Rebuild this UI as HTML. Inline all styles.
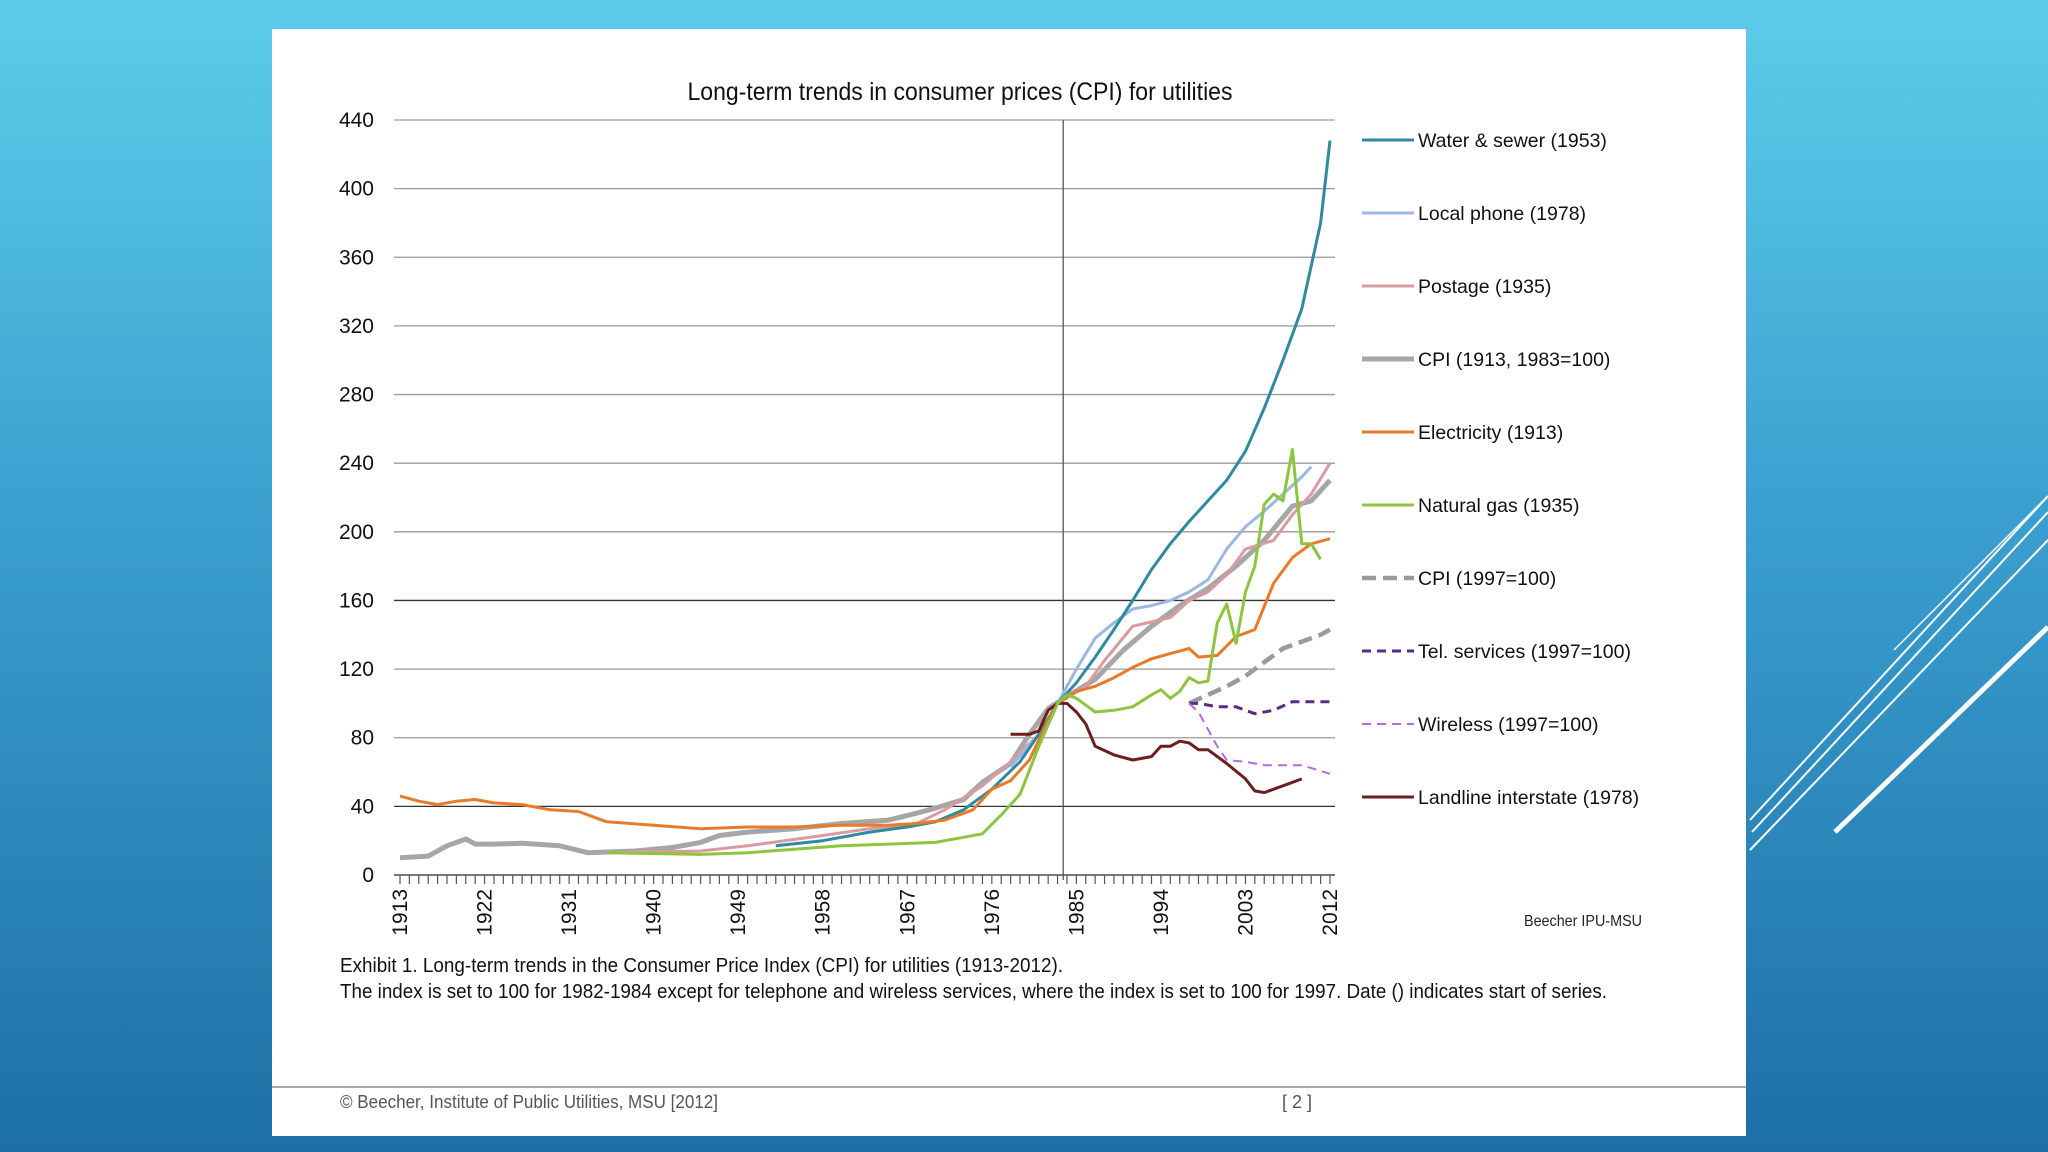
<!DOCTYPE html>
<html><head><meta charset="utf-8">
<style>
html,body{margin:0;padding:0;width:2048px;height:1152px;overflow:hidden;}
body{background:linear-gradient(180deg,#5ccde9 0%,#3a9fd0 45%,#1d6fa6 100%);font-family:"Liberation Sans",sans-serif;}
svg{position:absolute;left:0;top:0;}
</style></head>
<body>
<svg id="chart" width="2048" height="1152" viewBox="0 0 2048 1152" xmlns="http://www.w3.org/2000/svg">
  <g stroke="#ffffff" fill="none">
    <line x1="1750" y1="820" x2="2048" y2="496" stroke-width="2"/>
    <line x1="1752" y1="832" x2="2048" y2="512" stroke-width="2"/>
    <line x1="1750" y1="850" x2="2048" y2="540" stroke-width="2"/>
    <line x1="1835" y1="832" x2="2048" y2="627" stroke-width="5"/>
    <line x1="1894" y1="650" x2="2048" y2="496" stroke-width="1.5"/>
  </g>
  <rect x="272" y="29" width="1474" height="1107" fill="#ffffff"/>
  <text x="960" y="100" font-size="25" text-anchor="middle" fill="#111" font-family="Liberation Sans, sans-serif" textLength="545" lengthAdjust="spacingAndGlyphs">Long-term trends in consumer prices (CPI) for utilities</text>
  <g id="grid"></g>
  <g id="axes"></g>
  <g id="series"></g>
  <g id="legend"></g>
  <text x="1524" y="926" font-size="16" fill="#222" textLength="118" lengthAdjust="spacingAndGlyphs">Beecher IPU-MSU</text>
  <text x="340" y="972" font-size="20" fill="#111" textLength="723" lengthAdjust="spacingAndGlyphs">Exhibit 1.  Long-term trends in the Consumer Price Index (CPI) for utilities (1913-2012).</text>
  <text x="340" y="998" font-size="20" fill="#111" textLength="1267" lengthAdjust="spacingAndGlyphs">The index is set to 100 for 1982-1984 except for telephone and wireless services, where the index is set to 100 for 1997.  Date () indicates start of series.</text>
  <line x1="272" y1="1087" x2="1746" y2="1087" stroke="#8a8a8a" stroke-width="1.5"/>
  <text x="340" y="1108" font-size="18" fill="#555" textLength="378" lengthAdjust="spacingAndGlyphs">© Beecher, Institute of Public Utilities, MSU [2012]</text>
  <text x="1297" y="1108" font-size="18" fill="#555" text-anchor="middle">[ 2 ]</text>
</svg>
<script>
const yTicks=[0,40,80,120,160,200,240,280,320,360,400,440];
const xTickYears=[1913,1922,1931,1940,1949,1958,1967,1976,1985,1994,2003,2012];
const waterYears=[1953,1958,1963,1967,1970,1973,1976,1979,1981,1983,1985,1987,1989,1991,1993,1995,1997,1999,2001,2003,2005,2007,2009,2011,2012];
const waterVals=[17,20,25,28,31,38,50,66,82,100,112,127,143,160,178,193,206,218,230,247,272,300,330,380,428];
const phoneYears=[1978,1981,1983,1985,1987,1989,1991,1993,1995,1997,1999,2001,2003,2005,2007,2009,2010];
const phoneVals=[63,82,100,120,138,147,155,157,160,165,172,190,203,212,222,232,238];
const postageYears=[1935,1945,1950,1958,1963,1968,1971,1975,1978,1981,1983,1986,1988,1991,1995,1997,1999,2001,2003,2006,2008,2010,2012];
const postageVals=[13,14,17,23,27,30,38,52,66,82,100,110,125,145,150,160,165,175,190,195,210,222,240];
const cpiYears=[1913,1916,1918,1920,1921,1923,1926,1930,1933,1938,1942,1945,1947,1950,1955,1960,1965,1968,1970,1973,1975,1978,1980,1982,1984,1987,1990,1993,1996,1999,2002,2005,2008,2010,2012];
const cpiVals=[10,11,17,21,18,18,18.5,17,13,14,16,19,23,25,27,30,32,36,39,44,54,65,82,97,104,114,131,145,157,167,180,195,215,218,230];
const elecYears=[1913,1915,1917,1919,1921,1923,1926,1929,1932,1935,1940,1945,1950,1955,1960,1965,1968,1971,1974,1976,1978,1980,1982,1983,1985,1987,1989,1991,1993,1995,1997,1998,2000,2002,2004,2006,2008,2010,2012];
const elecVals=[46,43,41,43,44,42,41,38,37,31,29,27,28,28,29,29,30,32,38,50,55,67,90,100,107,110,115,121,126,129,132,127,128,139,143,170,185,193,196];
const gasYears=[1935,1945,1950,1955,1960,1965,1970,1973,1975,1977,1979,1981,1983,1984,1985,1987,1989,1991,1993,1994,1995,1996,1997,1998,1999,2000,2001,2002,2003,2004,2005,2006,2007,2008,2009,2010,2011];
const gasVals=[13,12,13,15,17,18,19,22,24,35,47,75,100,105,103,95,96,98,105,108,103,107,115,112,113,147,158,135,165,180,216,222,218,248,193,193,184];
const cpi97Years=[1997,1999,2001,2003,2005,2007,2009,2011,2012];
const cpi97Vals=[100,105,110,116,124,132,136,140,143];
const telYears=[1997,1998,2000,2002,2004,2006,2008,2010,2012];
const telVals=[100,100,98,98,94,96,101,101,101];
const wirelessYears=[1997,1998,2000,2001,2003,2005,2007,2009,2012];
const wirelessVals=[100,95,75,67,66,64,64,64,59];
const landYears=[1978,1980,1981,1982,1983,1984,1985,1986,1987,1989,1991,1993,1994,1995,1996,1997,1998,1999,2001,2003,2004,2005,2007,2009];
const landVals=[82,82,84,96,100,100,95,88,75,70,67,69,75,75,78,77,73,73,65,56,49,48,52,56];
const legendLabels=["Water & sewer (1953)","Local phone (1978)","Postage (1935)","CPI (1913, 1983=100)","Electricity (1913)","Natural gas (1935)","CPI (1997=100)","Tel. services (1997=100)","Wireless (1997=100)","Landline interstate (1978)"];

const NS="http://www.w3.org/2000/svg";
const X0=400,X1=1330,Y0=875,Y1=120;
function xs(yr){return X0+(yr-1913)/(2012-1913)*(X1-X0);}
function ys(v){return Y0-v/440*(Y0-Y1);}
function mk(tag,attrs,parent){const e=document.createElementNS(NS,tag);for(const k in attrs)e.setAttribute(k,attrs[k]);parent.appendChild(e);return e;}
const grid=document.getElementById('grid'),axes=document.getElementById('axes'),series=document.getElementById('series'),legend=document.getElementById('legend');

yTicks.forEach(v=>{
  const dark=(v===40||v===160);
  const l=mk('line',{x1:394,x2:1335,y1:ys(v),y2:ys(v),stroke:dark?'#333':'#9a9a9a','stroke-width':1.3},grid);
  
  
  const t=mk('text',{x:374,y:ys(v)+7,'font-size':21,'text-anchor':'end',fill:'#111'},axes);
  t.textContent=v;
  
  
});
const vl=mk('line',{x1:xs(1983.6),x2:xs(1983.6),y1:120,y2:880,stroke:'#555','stroke-width':1.3},grid);


const xa=mk('line',{x1:394,x2:1335,y1:Y0,y2:Y0,stroke:'#555','stroke-width':1.5},axes);


for(let yr=1913;yr<=2012;yr++){
  const tk=mk('line',{x1:xs(yr),x2:xs(yr),y1:Y0,y2:Y0+9,stroke:'#555','stroke-width':1.2},axes);
  
  
}
xTickYears.forEach(yr=>{
  const x=xs(yr)+7,y=Y0+14;
  const t=mk('text',{x:x,y:y,'font-size':21,'text-anchor':'end',fill:'#111',transform:`rotate(-90 ${x} ${y})`},axes);
  t.textContent=yr;
  
  
});

const styles=[
 {c:'#2f8a9f',w:3,d:''},
 {c:'#9bb8e2',w:3,d:''},
 {c:'#d99ba0',w:3,d:''},
 {c:'#a6a6a6',w:5,d:''},
 {c:'#e87a2a',w:3,d:''},
 {c:'#8cc63f',w:3,d:''},
 {c:'#9a9a9a',w:4.5,d:'14 7'},
 {c:'#5a2a88',w:3,d:'9 6'},
 {c:'#b56ae0',w:2,d:'9 6'},
 {c:'#6b1f1f',w:3,d:''}
];
const data=[[waterYears,waterVals],[phoneYears,phoneVals],[postageYears,postageVals],[cpiYears,cpiVals],[elecYears,elecVals],[gasYears,gasVals],[cpi97Years,cpi97Vals],[telYears,telVals],[wirelessYears,wirelessVals],[landYears,landVals]];
const names=['water-sewer','local-phone','postage','cpi-1913','electricity','natural-gas','cpi-1997','tel-services','wireless','landline-interstate'];
const order=[3,2,1,0,4,6,9,5,7,8];
order.forEach(i=>{
  const [yrs,vals]=data[i],s=styles[i];
  const pts=yrs.map((y,k)=>xs(y).toFixed(1)+','+ys(vals[k]).toFixed(1)).join(' ');
  const p=mk('polyline',{points:pts,fill:'none',stroke:s.c,'stroke-width':s.w,'stroke-linejoin':'round','stroke-dasharray':s.d},series);
  
  
});
legendLabels.forEach((lab,i)=>{
  const y=140+i*73,s=styles[i];
  const g=mk('g',{},legend);
  
  
  mk('line',{x1:1362,x2:1414,y1:y,y2:y,stroke:s.c,'stroke-width':s.w,'stroke-dasharray':s.d},g);
  const t=mk('text',{x:1418,y:y+7,'font-size':19.5,fill:'#111'},g);
  t.textContent=lab;
});
</script>
</body></html>
